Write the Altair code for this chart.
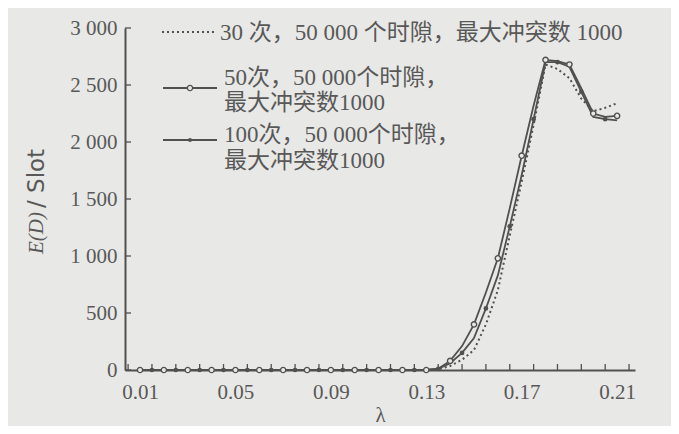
import altair as alt
import pandas as pd

# ---- data ----
lam = [0.010, 0.015, 0.020, 0.025, 0.030, 0.035, 0.040, 0.045, 0.050, 0.055,
       0.060, 0.065, 0.070, 0.075, 0.080, 0.085, 0.090, 0.095, 0.100, 0.105,
       0.110, 0.115, 0.120, 0.125, 0.130, 0.135, 0.140, 0.145, 0.150, 0.155,
       0.160, 0.165, 0.170, 0.175, 0.180, 0.185, 0.190, 0.195, 0.200, 0.205,
       0.210]
s30 = [0, 0, 0, 0, 0, 0, 0, 0, 0, 0, 0, 0, 0, 0, 0, 0, 0, 0, 0, 0, 0, 0, 0, 0, 0,
       5, 35, 90, 175, 400, 700, 1180, 1650, 2150, 2680, 2640, 2560, 2380, 2270, 2300, 2340]
s50 = [0, 0, 0, 0, 0, 0, 0, 0, 0, 0, 0, 0, 0, 0, 0, 0, 0, 0, 0, 0, 0, 0, 0, 0, 0,
       12, 80, 210, 400, 680, 980, 1420, 1880, 2320, 2720, 2710, 2680, 2470, 2250, 2220, 2230]
s100 = [0, 0, 0, 0, 0, 0, 0, 0, 0, 0, 0, 0, 0, 0, 0, 0, 0, 0, 0, 0, 0, 0, 0, 0, 0,
        10, 60, 150, 280, 540, 830, 1260, 1710, 2200, 2700, 2700, 2660, 2440, 2220, 2200, 2190]

x_labels = [0.01, 0.05, 0.09, 0.13, 0.17, 0.21]
x_ticks = [0.005, 0.015, 0.025, 0.035, 0.045, 0.055, 0.065, 0.075, 0.085, 0.095, 0.105,
           0.115, 0.125, 0.135, 0.145, 0.155, 0.165, 0.175, 0.185, 0.195, 0.205, 0.215]
y_ticks = [0, 500, 1000, 1500, 2000, 2500, 3000]

leg1 = "30 次，50 000 个时隙，最大冲突数 1000"
leg2 = ["50次，50 000个时隙，", "最大冲突数1000"]
leg3 = ["100次，50 000个时隙，", "最大冲突数1000"]

INK = "#505050"
TXT = "#585858"
BG = "#e8e8e6"
FONT = "Liberation Serif, Noto Sans CJK SC"

df = pd.DataFrame({"lam": lam, "s30": s30, "s50": s50, "s100": s100})
m50 = df.iloc[::2]
m100 = df.iloc[1::2]

xs = alt.Scale(domain=[0.0037, 0.2175], nice=False, zero=False)
ys = alt.Scale(domain=[0, 3000], nice=False)

W, H = 510, 342

xaxis = alt.Axis(values=x_labels, format=".2f", ticks=False, grid=False,
                 labelFont="Liberation Serif", labelFontSize=21, labelColor=TXT,
                 labelPadding=11, domainColor=INK, domainWidth=2,
                 title="λ", titleFont="Liberation Serif", titleFontSize=21,
                 titleFontWeight="normal", titleColor=TXT, titlePadding=2)
yaxis = alt.Axis(values=y_ticks, ticks=False, grid=False,
                 labelExpr="replace(format(datum.value, ','), ',', ' ')",
                 labelFont="Liberation Serif", labelFontSize=21, labelColor=TXT,
                 labelPadding=8, domainColor=INK, domainWidth=2, title=None)

base = alt.Chart(df)

line30 = base.mark_line(color=INK, strokeWidth=2, strokeDash=[2, 3]).encode(
    x=alt.X("lam:Q", scale=xs, axis=xaxis), y=alt.Y("s30:Q", scale=ys, axis=yaxis))
line50 = base.mark_line(color=INK, strokeWidth=1.8).encode(x=alt.X("lam:Q", scale=xs), y=alt.Y("s50:Q", scale=ys))
line100 = base.mark_line(color=INK, strokeWidth=1.8).encode(x=alt.X("lam:Q", scale=xs), y=alt.Y("s100:Q", scale=ys))

pts50 = alt.Chart(m50).mark_point(shape="circle", size=28, filled=True, fill=BG, stroke=INK,
                                  strokeWidth=1.4, opacity=1).encode(
    x=alt.X("lam:Q", scale=xs), y=alt.Y("s50:Q", scale=ys))
pts100 = alt.Chart(m100).mark_point(shape="circle", size=22, filled=True, color=INK, opacity=1).encode(
    x=alt.X("lam:Q", scale=xs), y=alt.Y("s100:Q", scale=ys))

xt = alt.Chart(pd.DataFrame({"t": x_ticks})).mark_rule(color=INK, strokeWidth=1.3).encode(
    x=alt.X("t:Q", scale=xs), y=alt.value(H), y2=alt.value(H - 6))
yt = alt.Chart(pd.DataFrame({"t": y_ticks})).mark_rule(color=INK, strokeWidth=1.3).encode(
    y=alt.Y("t:Q", scale=ys), x=alt.value(0), x2=alt.value(6))

one = pd.DataFrame({"k": [0]})


def txt(s, x, y, size=23, style="normal", font=FONT, angle=0, align="left"):
    return alt.Chart(one).mark_text(text=s, font=font, fontSize=size, fontStyle=style,
                                    color=TXT, align=align, baseline="middle", angle=angle).encode(
        x=alt.value(x), y=alt.value(y))


def rule(x1, x2, y, dash=None):
    kw = dict(color=INK, strokeWidth=1.8)
    if dash:
        kw["strokeDash"] = dash
    return alt.Chart(one).mark_rule(**kw).encode(x=alt.value(x1), x2=alt.value(x2), y=alt.value(y))


legend = [
    rule(37, 92, 4, [2, 3]), txt(leg1, 95, 5),
    rule(38, 92, 60), txt(leg2[0], 99, 50), txt(leg2[1], 99, 75),
    alt.Chart(one).mark_point(shape="circle", size=28, filled=True, fill=BG, stroke=INK,
                              strokeWidth=1.4, opacity=1).encode(x=alt.value(65), y=alt.value(60)),
    rule(38, 92, 112), txt(leg3[0], 99, 107), txt(leg3[1], 99, 133),
    alt.Chart(one).mark_point(shape="circle", size=16, filled=True, color=INK, opacity=1).encode(
        x=alt.value(65), y=alt.value(112)),
    txt("E(D)", -88, 226, size=21, style="italic", font="Liberation Serif", angle=270),
    txt("/ Slot", -88, 180, size=23, font="DejaVu Sans", angle=270),
]

chart = alt.layer(line30, line50, line100, pts50, pts100, xt, yt, *legend).properties(
    width=W, height=H, background=BG,
    autosize=alt.AutoSizeParams(type="none"),
    padding={"left": 117, "top": 20, "right": 36, "bottom": 56},
).configure_view(stroke=None)

chart.save("out.html", embed_options={"renderer": "svg", "actions": False})
